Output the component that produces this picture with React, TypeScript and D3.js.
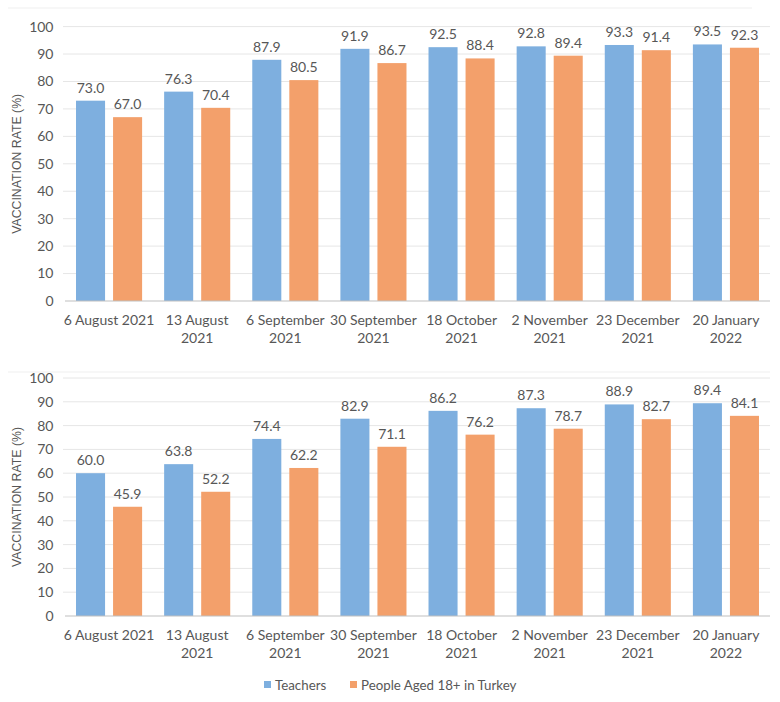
import React from "react";
import * as d3 from "d3";

const categories: string[][] = [
  ["6 August 2021"],
  ["13 August", "2021"],
  ["6 September", "2021"],
  ["30 September", "2021"],
  ["18 October", "2021"],
  ["2 November", "2021"],
  ["23 December", "2021"],
  ["20 January", "2022"],
];
const seriesNames = ["Teachers", "People Aged 18+ in Turkey"];
const seriesColors = ["#7eafdf", "#f3a06b"];
const topTeachers = [73.0, 76.3, 87.9, 91.9, 92.5, 92.8, 93.3, 93.5];
const topPeople = [67.0, 70.4, 80.5, 86.7, 88.4, 89.4, 91.4, 92.3];
const bottomTeachers = [60.0, 63.8, 74.4, 82.9, 86.2, 87.3, 88.9, 89.4];
const bottomPeople = [45.9, 52.2, 62.2, 71.1, 76.2, 78.7, 82.7, 84.1];
const yTicks = [0, 10, 20, 30, 40, 50, 60, 70, 80, 90, 100];
const yTitle = "VACCINATION RATE (%)";

const FONT = "Lato, 'Open Sans', sans-serif";
const TXT = "#575757";

function Panel({ values, y0, y100 }: { values: number[][]; y0: number; y100: number }) {
  const x = d3
    .scaleBand<number>()
    .domain(d3.range(categories.length))
    .range([65, 770])
    .paddingInner(0.25)
    .paddingOuter(0.125);
  const xs = d3.scaleBand<number>().domain([0, 1]).range([0, x.bandwidth()]).paddingInner(0.216).paddingOuter(0);
  const y = d3.scaleLinear().domain([0, 100]).range([y0, y100]);
  return (
    <g>
      <text
        transform={`translate(21,${(y0 + y100) / 2}) rotate(-90)`}
        textAnchor="middle"
        fontFamily="'Liberation Sans', Arial, sans-serif"
        fontSize={12.3}
        fill={TXT}
      >
        {yTitle}
      </text>
      {yTicks.map((t) => (
        <g key={t}>
          {t > 0 && <line x1={63} x2={770} y1={y(t)} y2={y(t)} stroke="#e6e6e6" strokeWidth={1} />}
          <text x={53.5} y={y(t)} dy="0.35em" textAnchor="end" fontFamily={FONT} fontSize={14} fill={TXT}>
            {t}
          </text>
        </g>
      ))}
      {values.map((vals, s) =>
        vals.map((v, i) => {
          const bx = (x(i) as number) + (xs(s) as number);
          return (
            <g key={`${s}-${i}`}>
              <rect x={bx} y={y(v)} width={xs.bandwidth()} height={y(0) - y(v)} fill={seriesColors[s]} />
              <text
                x={bx + xs.bandwidth() / 2}
                y={y(v) - 8}
                textAnchor="middle"
                fontFamily={FONT}
                fontSize={14}
                fill={TXT}
              >
                {v.toFixed(1)}
              </text>
            </g>
          );
        })
      )}
      <line x1={65} x2={770} y1={y(0)} y2={y(0)} stroke="#bfbfbf" strokeWidth={1.2} />
      {categories.map((lines, i) => (
        <text
          key={i}
          x={(x(i) as number) + x.bandwidth() / 2}
          y={y(0) + 24}
          textAnchor="middle"
          fontFamily={FONT}
          fontSize={14}
          fill={TXT}
        >
          {lines.map((l, j) => (
            <tspan key={j} x={(x(i) as number) + x.bandwidth() / 2} dy={j === 0 ? 0 : 17.5}>
              {l}
            </tspan>
          ))}
        </text>
      ))}
    </g>
  );
}

export default function App() {
  return (
    <svg width={780} height={702} style={{ position: "absolute", left: 0, top: 0 }}>
      <rect width={780} height={702} fill="#ffffff" />
      <line x1={8} x2={752} y1={8} y2={8} stroke="#efefef" />
      <line x1={8} x2={770} y1={372} y2={372} stroke="#efefef" />
      <Panel values={[topTeachers, topPeople]} y0={301} y100={26.6} />
      <Panel values={[bottomTeachers, bottomPeople]} y0={616} y100={378} />
      <g>
        {seriesNames.map((n, i) => {
          const lx = i === 0 ? 264 : 350;
          return (
            <g key={n}>
              <rect x={lx} y={681} width={7} height={7} fill={seriesColors[i]} />
              <text x={lx + 11} y={689.5} fontFamily={FONT} fontSize={13.3} fill={TXT}>
                {n}
              </text>
            </g>
          );
        })}
      </g>
    </svg>
  );
}
